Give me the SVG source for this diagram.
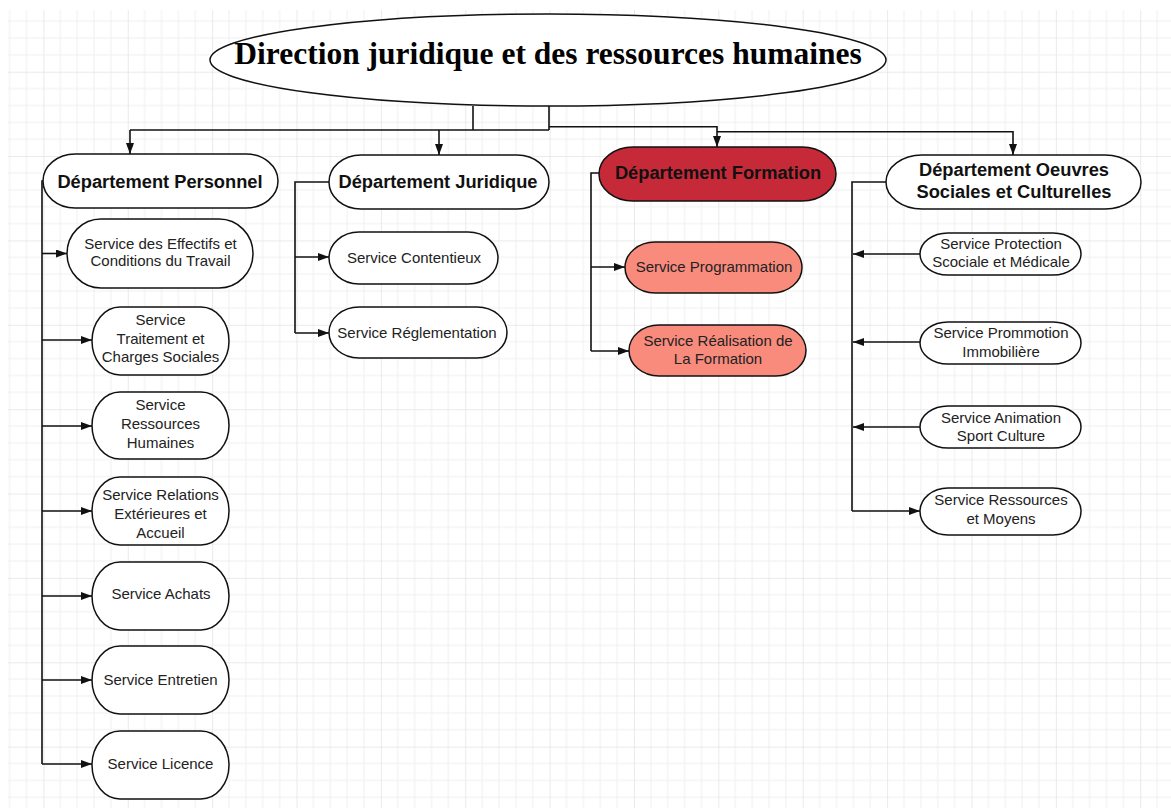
<svg xmlns="http://www.w3.org/2000/svg" width="1171" height="810" viewBox="0 0 1171 810">
<style>
.node{fill:#fff;stroke:#111;stroke-width:1.5}
.title{font-family:"Liberation Serif",serif;font-weight:bold;font-size:31.5px;fill:#000;text-anchor:middle}
.dept{font-family:"Liberation Sans",Arial,sans-serif;font-weight:bold;font-size:18.3px;fill:#111;text-anchor:middle}
.svc{font-family:"Liberation Sans",Arial,sans-serif;font-size:15px;fill:#222;text-anchor:middle}
.conn path{fill:none;stroke:#111;stroke-width:1.6}
.red{fill:#c62a39}
.salmon{fill:#f98b7d}
</style>
<defs>
<pattern id="grid" patternUnits="userSpaceOnUse" x="43.4" y="71.7" width="84.37" height="84.37">
<rect x="16.37" y="0" width="1" height="84.37" fill="#efefef"/>
<rect x="33.24" y="0" width="1" height="84.37" fill="#efefef"/>
<rect x="50.11" y="0" width="1" height="84.37" fill="#efefef"/>
<rect x="66.98" y="0" width="1" height="84.37" fill="#efefef"/>
<rect x="0" y="16.37" width="84.37" height="1" fill="#efefef"/>
<rect x="0" y="33.24" width="84.37" height="1" fill="#efefef"/>
<rect x="0" y="50.11" width="84.37" height="1" fill="#efefef"/>
<rect x="0" y="66.98" width="84.37" height="1" fill="#efefef"/>
<rect x="-0.5" y="0" width="1.2" height="84.37" fill="#e2e2e2"/>
<rect x="0" y="-0.5" width="84.37" height="1.2" fill="#e2e2e2"/>
</pattern>
<marker id="arr" viewBox="0 0 11 8" refX="11" refY="4" markerWidth="11" markerHeight="8" markerUnits="userSpaceOnUse" orient="auto">
<path d="M0,0 L11,4 L0,8 z" fill="#111"/>
</marker>
</defs>
<rect width="1171" height="810" fill="#fff"/>
<rect x="8" y="10" width="1163" height="798" fill="url(#grid)"/>

<g id="connectors" class="conn">
<path d="M473,106 V130"/>
<path d="M549,106 V130"/>
<path d="M130,130 H549"/>
<path d="M130,130 V154" marker-end="url(#arr)"/>
<path d="M439,130 V155" marker-end="url(#arr)"/>
<path d="M549,126.7 H717 V147" marker-end="url(#arr)"/>
<path d="M717,131.7 H1013 V155" marker-end="url(#arr)"/>

<path d="M44,181 H42 V764"/>
<path d="M42,253.5 H67" marker-end="url(#arr)"/>
<path d="M42,340 H92" marker-end="url(#arr)"/>
<path d="M42,426 H92" marker-end="url(#arr)"/>
<path d="M42,511 H92" marker-end="url(#arr)"/>
<path d="M42,596 H92" marker-end="url(#arr)"/>
<path d="M42,680 H92" marker-end="url(#arr)"/>
<path d="M42,764 H92" marker-end="url(#arr)"/>

<path d="M329,182 H295 V333"/>
<path d="M295,257 H329" marker-end="url(#arr)"/>
<path d="M295,333 H329" marker-end="url(#arr)"/>

<path d="M599,173 H591 V351"/>
<path d="M591,267 H625" marker-end="url(#arr)"/>
<path d="M591,351 H629" marker-end="url(#arr)"/>

<path d="M886,182 H852 V511"/>
<path d="M920,254 H853" marker-end="url(#arr)"/>
<path d="M920,342 H853" marker-end="url(#arr)"/>
<path d="M920,427 H853" marker-end="url(#arr)"/>
<path d="M852,511 H920" marker-end="url(#arr)"/>
</g>

<g id="n-direction">
<ellipse class="node" cx="548" cy="60" rx="338" ry="46"/>
<text class="title" x="548" y="64">Direction juridique et des ressources humaines</text>
</g>

<g id="n-dep-personnel">
<rect class="node" x="43" y="154" width="235" height="54" rx="32" ry="27"/>
<text class="dept" x="160" y="188">Département Personnel</text>
</g>
<g id="n-dep-juridique">
<rect class="node" x="329" y="155" width="220" height="54" rx="32" ry="27"/>
<text class="dept" x="438" y="188">Département Juridique</text>
</g>
<g id="n-dep-formation">
<rect class="node red" x="599" y="147" width="237" height="54" rx="34" ry="27"/>
<text class="dept" x="718" y="178.5">Département Formation</text>
</g>
<g id="n-dep-oeuvres">
<rect class="node" x="886" y="155" width="255" height="54" rx="36" ry="27"/>
<text class="dept" x="1014" y="175.7">Département Oeuvres</text>
<text class="dept" x="1014" y="198">Sociales et Culturelles</text>
</g>

<g id="n-effectifs">
<rect class="node" x="67" y="219" width="186" height="69" rx="34" ry="34.5"/>
<text class="svc" x="160.5" y="248.5">Service des Effectifs et</text>
<text class="svc" x="160.5" y="266">Conditions du Travail</text>
</g>
<g id="n-traitement">
<rect class="node" x="92" y="307" width="137" height="68" rx="28" ry="34"/>
<text class="svc" x="160.5" y="324.7">Service</text>
<text class="svc" x="160.5" y="343.7">Traitement et</text>
<text class="svc" x="160.5" y="362">Charges Sociales</text>
</g>
<g id="n-rh">
<rect class="node" x="92" y="392" width="137" height="67" rx="28" ry="33.5"/>
<text class="svc" x="160.5" y="410.4">Service</text>
<text class="svc" x="160.5" y="429.4">Ressources</text>
<text class="svc" x="160.5" y="448">Humaines</text>
</g>
<g id="n-relations">
<rect class="node" x="92" y="477" width="137" height="68" rx="28" ry="34"/>
<text class="svc" x="160.5" y="500.4">Service Relations</text>
<text class="svc" x="160.5" y="519.4">Extérieures et</text>
<text class="svc" x="160.5" y="538">Accueil</text>
</g>
<g id="n-achats">
<rect class="node" x="92" y="562" width="137" height="68" rx="28" ry="34"/>
<text class="svc" x="161" y="598.7">Service Achats</text>
</g>
<g id="n-entretien">
<rect class="node" x="92" y="646" width="137" height="68" rx="28" ry="34"/>
<text class="svc" x="160.5" y="685.4">Service Entretien</text>
</g>
<g id="n-licence">
<rect class="node" x="92" y="731" width="137" height="68" rx="28" ry="34"/>
<text class="svc" x="160.5" y="768.7">Service Licence</text>
</g>

<g id="n-contentieux">
<rect class="node" x="329" y="232" width="169" height="52" rx="30" ry="26"/>
<text class="svc" x="414" y="263.4">Service Contentieux</text>
</g>
<g id="n-reglementation">
<rect class="node" x="329" y="307" width="178" height="51" rx="30" ry="25.5"/>
<text class="svc" x="417" y="338">Service Réglementation</text>
</g>

<g id="n-programmation">
<rect class="node salmon" x="625" y="242" width="177" height="51" rx="30" ry="25.5"/>
<text class="svc" x="714" y="272">Service Programmation</text>
</g>
<g id="n-realisation">
<rect class="node salmon" x="629" y="325" width="177" height="51" rx="30" ry="25.5"/>
<text class="svc" x="718" y="346.4">Service Réalisation de</text>
<text class="svc" x="718" y="363.7">La Formation</text>
</g>

<g id="n-protection">
<rect class="node" x="920" y="233" width="161" height="42" rx="28" ry="21"/>
<text class="svc" x="1001" y="248.7">Service Protection</text>
<text class="svc" x="1001" y="267">Scociale et Médicale</text>
</g>
<g id="n-prommotion">
<rect class="node" x="920" y="322" width="161" height="42" rx="28" ry="21"/>
<text class="svc" x="1001" y="338">Service Prommotion</text>
<text class="svc" x="1001" y="357">Immobilière</text>
</g>
<g id="n-animation">
<rect class="node" x="920" y="406" width="161" height="42" rx="28" ry="21"/>
<text class="svc" x="1001" y="422.7">Service Animation</text>
<text class="svc" x="1001" y="441.4">Sport Culture</text>
</g>
<g id="n-ressources-moyens">
<rect class="node" x="920" y="488" width="161" height="47" rx="28" ry="23.5"/>
<text class="svc" x="1001" y="505.4">Service Ressources</text>
<text class="svc" x="1001" y="524.4">et Moyens</text>
</g>
</svg>
